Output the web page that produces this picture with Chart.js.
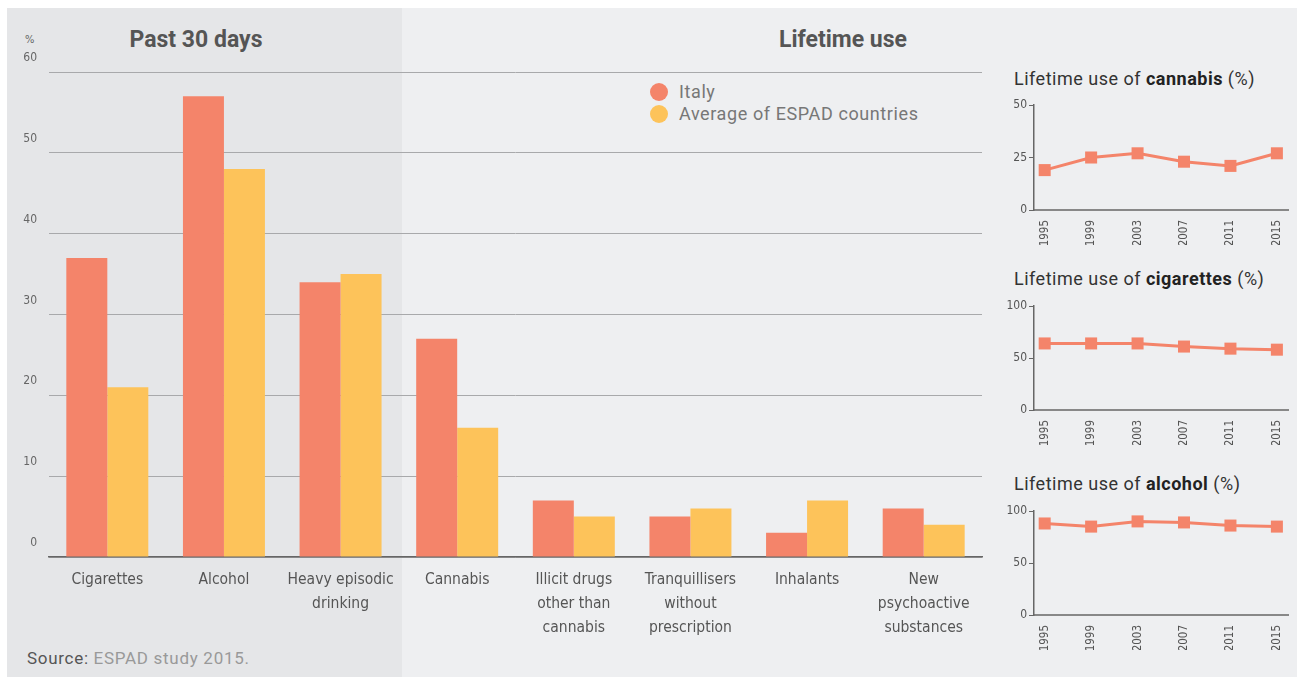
<!DOCTYPE html>
<html>
<head>
<meta charset="utf-8">
<script src="https://cdn.jsdelivr.net/npm/chart.js"></script>
<style>
    body { margin: 0; width: 1297px; height: 677px; background: #fff; position: relative; overflow: hidden; font-family: Roboto, "Liberation Sans", sans-serif; }
    .panel { position: absolute; top: 8px; bottom: 0; }
    #panelLeft { left: 7px; width: 395px; background: #e5e6e8; }
    #panelRight { left: 402px; right: 0; background: #eeeff1; }
    .head { position: absolute; top: 26px; font-size: 23px; font-weight: bold; color: #555; transform: translateX(-50%); white-space: nowrap; }
    .unit { position: absolute; left: 25px; top: 33px; font-size: 11px; color: #666; font-family: "Liberation Sans Narrow", "DejaVu Sans Condensed", sans-serif; }
    .legend { position: absolute; left: 650px; font-size: 18px; letter-spacing: 0.6px; color: #777; white-space: nowrap; }
    .legend span { display: inline-block; width: 18px; height: 18px; border-radius: 50%; vertical-align: -3px; margin-right: 11px; }
    .mini-title { position: absolute; left: 1014px; font-size: 18px; letter-spacing: 0.5px; color: #333; white-space: nowrap; }
    .mini-title b { color: #222; }
    .source { position: absolute; left: 27px; top: 648px; font-size: 17px; letter-spacing: 0.7px; color: #999; }
    .source em { font-style: normal; color: #555; }
    canvas { position: absolute; }
</style>
</head>
<body>
<div class="panel" id="panelLeft"></div>
<div class="panel" id="panelRight"></div>
<div class="head" style="left:196px">Past 30 days</div>
<div class="head" style="left:843px">Lifetime use</div>
<div class="unit">%</div>
<div class="legend" style="top:81px"><span style="background:#f4846a"></span>Italy</div>
<div class="legend" style="top:103px"><span style="background:#fdc35a"></span>Average of ESPAD countries</div>
<div class="mini-title" style="top:68px">Lifetime use of <b>cannabis</b> (%)</div>
<div class="mini-title" style="top:268px">Lifetime use of <b>cigarettes</b> (%)</div>
<div class="mini-title" style="top:473px">Lifetime use of <b>alcohol</b> (%)</div>
<div class="source"><em>Source:</em> ESPAD study 2015.</div>

<canvas id="mainChart" style="left:0;top:0" width="990" height="677"></canvas>
<canvas id="cannabisChart" style="left:995px;top:95px" width="302" height="150"></canvas>
<canvas id="cigarettesChart" style="left:995px;top:296px" width="302" height="149"></canvas>
<canvas id="alcoholChart" style="left:995px;top:501px" width="302" height="149"></canvas>

<script>
// bar chart data
const categories = [
    ["Cigarettes"],
    ["Alcohol"],
    ["Heavy episodic", "drinking"],
    ["Cannabis"],
    ["Illicit drugs", "other than", "cannabis"],
    ["Tranquillisers", "without", "prescription"],
    ["Inhalants"],
    ["New", "psychoactive", "substances"]
];
const italy = [37, 57, 34, 27, 7, 5, 3, 6];
const espadAverage = [21, 48, 35, 16, 5, 6, 7, 4];
const yTicks = [0, 10, 20, 30, 40, 50, 60];

// small trend charts
const years = [1995, 1999, 2003, 2007, 2011, 2015];
const cannabisTrend = [19, 25, 27, 23, 21, 27];
const cigarettesTrend = [64, 64, 64, 61, 59, 58];
const alcoholTrend = [88, 85, 90, 89, 86, 85];
const cannabisTicks = [0, 25, 50];
const percentTicks = [0, 50, 100];

const ITALY_COLOR = "#f4846a";
const ESPAD_COLOR = "#fdc35a";
const NARROW = '"Liberation Sans Narrow", "DejaVu Sans Condensed", Roboto, sans-serif';

Chart.defaults.animation = false;
Chart.defaults.responsive = false;

new Chart(document.getElementById("mainChart").getContext("2d"), {
    type: "bar",
    data: {
        labels: categories,
        datasets: [
            { label: "Italy", data: italy, backgroundColor: ITALY_COLOR },
            { label: "Average of ESPAD countries", data: espadAverage, backgroundColor: ESPAD_COLOR }
        ]
    },
    options: {
        layout: { padding: { top: 72, right: 8, left: 0, bottom: 0 } },
        plugins: { legend: { display: false }, tooltip: { enabled: false } },
        datasets: { bar: { categoryPercentage: 0.703, barPercentage: 1 } },
        scales: {
            x: {
                grid: { display: false },
                border: { display: true, color: "#666", width: 1.5 },
                ticks: { color: "#555", font: { family: NARROW, size: 15.5, lineHeight: 24 / 15.5 }, padding: 3, maxRotation: 0, autoSkip: false },
                afterFit: (s) => { s.height = 120; }
            },
            y: {
                min: 0,
                max: 60,
                afterBuildTicks: (s) => { s.ticks = yTicks.map((v) => ({ value: v })); },
                afterFit: (s) => { s.width = 49; },
                grid: { color: "#a8a9ab", lineWidth: 1, drawTicks: false },
                border: { display: false },
                ticks: { color: "#666", font: { family: NARROW, size: 12 }, padding: 12, labelOffset: -14 }
            }
        }
    }
});

function trendChart(id, values, ticks) {
    new Chart(document.getElementById(id).getContext("2d"), {
        type: "line",
        data: {
            datasets: [{
                data: years.map((yr, i) => ({ x: yr, y: values[i] })),
                borderColor: ITALY_COLOR,
                backgroundColor: ITALY_COLOR,
                borderWidth: 3,
                pointStyle: "rect",
                pointRadius: 8.5,
                pointBorderWidth: 0,
                clip: false
            }]
        },
        options: {
            layout: { padding: { top: 10, right: 0, left: 0, bottom: 0 } },
            plugins: { legend: { display: false }, tooltip: { enabled: false } },
            scales: {
                x: {
                    type: "linear",
                    min: 1994.08,
                    max: 2016,
                    afterBuildTicks: (s) => { s.ticks = years.map((v) => ({ value: v })); },
                    afterFit: (s) => { s.height = 35; },
                    grid: { display: false },
                    border: { display: true, color: "#888", width: 2 },
                    ticks: { color: "#555", font: { family: NARROW, size: 11.5 }, minRotation: 90, maxRotation: 90, padding: 2, callback: (v) => String(v) }
                },
                y: {
                    min: ticks[0],
                    max: ticks[ticks.length - 1],
                    afterBuildTicks: (s) => { s.ticks = ticks.map((v) => ({ value: v })); },
                    afterFit: (s) => { s.width = 39; },
                    grid: { drawOnChartArea: false, color: "#666", tickLength: 5 },
                    border: { display: true, color: "#666", width: 1.5 },
                    ticks: { color: "#555", font: { family: NARROW, size: 12 }, padding: 2 }
                }
            }
        }
    });
}

trendChart("cannabisChart", cannabisTrend, cannabisTicks);
trendChart("cigarettesChart", cigarettesTrend, percentTicks);
trendChart("alcoholChart", alcoholTrend, percentTicks);
</script>
</body>
</html>
